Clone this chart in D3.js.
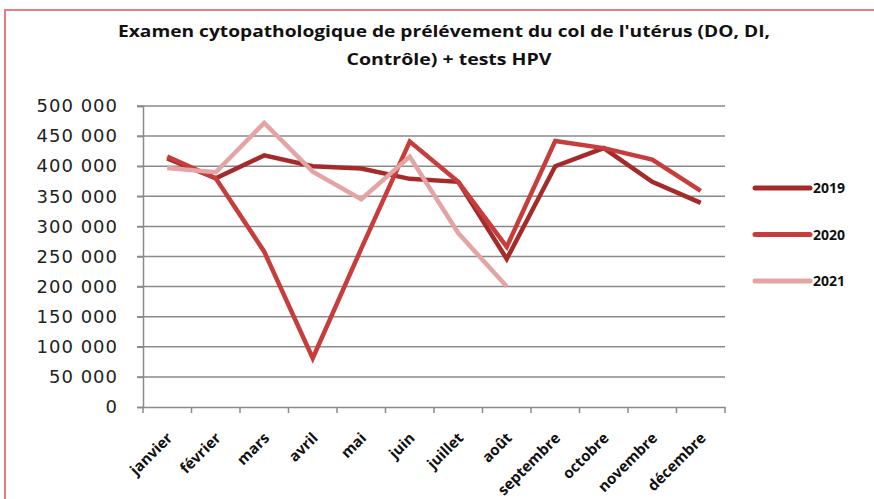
<!DOCTYPE html>
<html>
<head>
<meta charset="utf-8">
<script src="https://cdn.jsdelivr.net/npm/d3@7"></script>
<style>
  body { margin: 0; background: #fff; }
  svg { display: block; }
</style>
</head>
<body>
<svg id="chart"></svg>
<script>
const months = ['janvier', 'février', 'mars', 'avril', 'mai', 'juin', 'juillet', 'août', 'septembre', 'octobre', 'novembre', 'décembre'];
const years = ['2019', '2020', '2021'];
const values2019 = [413000, 380000, 418000, 400000, 396000, 379000, 374000, 246000, 400000, 430000, 374000, 339000];
const values2020 = [416000, 380000, 258000, 81000, 263000, 441000, 374000, 266000, 442000, 430000, 411000, 359000];
const values2021 = [397000, 390000, 472000, 391000, 345000, 416000, 289000, 200000];
const yTicks = [0, 50000, 100000, 150000, 200000, 250000, 300000, 350000, 400000, 450000, 500000];
const colors = ['#a52b2b', '#c63d3b', '#e3a4a4'];

const width = 874, height = 499;
const margin = { top: 106, right: 149, bottom: 92, left: 143 };

const svg = d3.select('#chart')
    .attr('width', width)
    .attr('height', height);

// pink frame (top and left edges visible)
svg.append('path')
    .attr('d', `M5,${height} L5,10 L${width},10`)
    .attr('fill', 'none')
    .attr('stroke', '#ec7a86')
    .attr('stroke-width', 2);

const title = svg.append('text')
    .attr('text-anchor', 'middle')
    .style('font-family', 'Open Sans')
    .style('font-weight', 'bold')
    .style('font-size', '16.5px')
    .attr('fill', '#111');
title.append('tspan').attr('x', 444).attr('y', 37)
    .attr('textLength', 652).attr('lengthAdjust', 'spacingAndGlyphs')
    .text("Examen cytopathologique de prélévement du col de l'utérus (DO, DI,");
title.append('tspan').attr('x', 449).attr('y', 65)
    .attr('textLength', 205).attr('lengthAdjust', 'spacingAndGlyphs')
    .text('Contrôle) + tests HPV');

const chart = svg.append('g')
    .attr('transform', `translate(${margin.left}, ${margin.top})`);

const innerWidth = width - margin.left - margin.right;
const innerHeight = height - margin.top - margin.bottom;

const xscale = d3.scaleBand()
    .domain(months)
    .range([0, innerWidth]);

const yscale = d3.scaleLinear()
    .domain([0, 500000])
    .range([innerHeight, 0]);

const fmt = d => d3.format(',')(d).replace(/,/g, ' ');

// gridlines
chart.append('g')
    .selectAll('line')
    .data(yTicks.slice(1))
    .enter()
    .append('line')
    .attr('x1', -6)
    .attr('x2', innerWidth)
    .attr('y1', d => yscale(d))
    .attr('y2', d => yscale(d))
    .attr('stroke', '#8a8a8a')
    .attr('stroke-width', 1.5);

const yaxis = d3.axisLeft(yscale)
    .tickValues(yTicks)
    .tickFormat(fmt)
    .tickSize(6)
    .tickPadding(19);

const yaxisGroup = chart.append('g').call(yaxis);
yaxisGroup.select('.domain').attr('stroke', '#8a8a8a').attr('stroke-width', 1.5);
yaxisGroup.selectAll('.tick line').attr('stroke', '#8a8a8a').attr('stroke-width', 1.5);
yaxisGroup.selectAll('.tick text')
    .style('font-family', 'DejaVu Sans')
    .style('font-size', '18px')
    .style('letter-spacing', '1px')
    .attr('fill', '#222');

const xaxis = d3.axisBottom(xscale)
    .tickSize(0)
    .tickPadding(0);

const xaxisGroup = chart.append('g')
    .attr('transform', `translate(0, ${innerHeight})`)
    .call(xaxis);
xaxisGroup.select('.domain').attr('stroke', '#8a8a8a').attr('stroke-width', 1.5);

// tick marks between categories
xaxisGroup.append('g')
    .selectAll('line')
    .data(d3.range(months.length + 1))
    .enter()
    .append('line')
    .attr('x1', i => i * xscale.step())
    .attr('x2', i => i * xscale.step())
    .attr('y1', 0)
    .attr('y2', 6)
    .attr('stroke', '#8a8a8a')
    .attr('stroke-width', 1.5);

xaxisGroup.selectAll('.tick text')
    .style('font-family', 'Open Sans')
    .style('font-weight', 'bold')
    .style('font-size', '15px')
    .attr('fill', '#111')
    .attr('text-anchor', 'end')
    .attr('y', 0)
    .attr('dy', 0)
    .attr('transform', 'translate(6, 32) rotate(-45)');

const series = [values2019, values2020, values2021];

const line = d3.line()
    .x((d, i) => xscale(months[i]) + xscale.bandwidth() / 2)
    .y(d => yscale(d));

chart.selectAll('.series')
    .data(series)
    .enter()
    .append('path')
    .attr('class', 'series')
    .attr('fill', 'none')
    .attr('stroke', (d, i) => colors[i])
    .attr('stroke-width', 4.5)
    .attr('stroke-linejoin', 'miter')
    .attr('d', d => line(d));

// legend
const legend = svg.append('g')
    .attr('transform', 'translate(755, 188)');

const item = legend.selectAll('g')
    .data(years)
    .enter()
    .append('g')
    .attr('transform', (d, i) => `translate(0, ${i * 46.5})`);

item.append('line')
    .attr('x1', 0).attr('x2', 55)
    .attr('y1', 0).attr('y2', 0)
    .attr('stroke', (d, i) => colors[i])
    .attr('stroke-width', 5)
    .attr('stroke-linecap', 'round');

item.append('text')
    .attr('x', 58)
    .attr('y', 5)
    .style('font-family', 'Open Sans')
    .style('font-weight', 'bold')
    .style('font-size', '14px')
    .attr('fill', '#111')
    .text(d => d);
</script>
</body>
</html>
